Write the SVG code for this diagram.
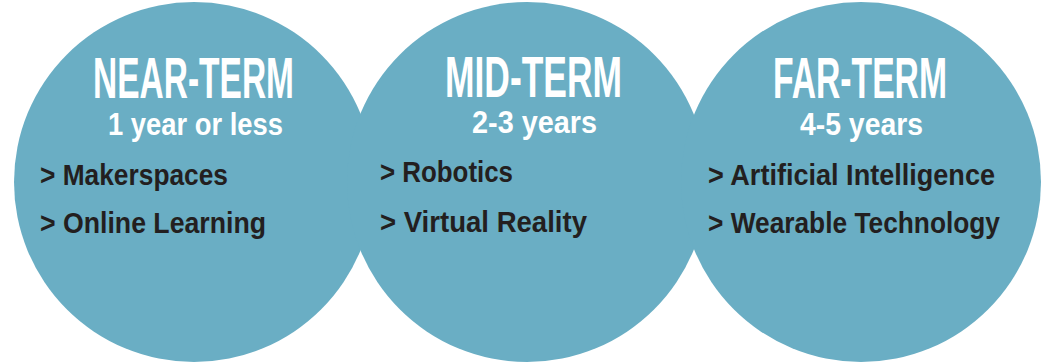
<svg xmlns="http://www.w3.org/2000/svg" width="1047" height="364" viewBox="0 0 1047 364">
<style>
.c{fill:#6aaec4}
.t{font-family:"Liberation Sans","DejaVu Sans",sans-serif;font-weight:bold;fill:#ffffff;font-size:58px}
.s{font-family:"Liberation Sans","DejaVu Sans",sans-serif;font-weight:bold;fill:#ffffff;font-size:31px}
.i{font-family:"Liberation Sans","DejaVu Sans",sans-serif;font-weight:bold;fill:#231f20;font-size:29px}
</style>
<rect width="1047" height="364" fill="#ffffff"/>
<g id="near-term">
<circle class="c" cx="194" cy="182" r="180"/>
<text class="t" x="93" y="98" textLength="201" lengthAdjust="spacingAndGlyphs">NEAR-TERM</text>
<text class="s" x="108" y="135" textLength="175" lengthAdjust="spacingAndGlyphs">1 year or less</text>
<text class="i" x="40" y="185" textLength="188" lengthAdjust="spacingAndGlyphs">&gt; Makerspaces</text>
<text class="i" x="40" y="233" textLength="226" lengthAdjust="spacingAndGlyphs">&gt; Online Learning</text>
</g>
<g id="mid-term">
<circle class="c" cx="527" cy="182" r="180"/>
<text class="t" x="445" y="97" textLength="177" lengthAdjust="spacingAndGlyphs">MID-TERM</text>
<text class="s" x="472" y="133" textLength="125" lengthAdjust="spacingAndGlyphs">2-3 years</text>
<text class="i" x="380" y="182" textLength="133" lengthAdjust="spacingAndGlyphs">&gt; Robotics</text>
<text class="i" x="380" y="232" textLength="207" lengthAdjust="spacingAndGlyphs">&gt; Virtual Reality</text>
</g>
<g id="far-term">
<circle class="c" cx="861" cy="182" r="180"/>
<text class="t" x="773" y="98" textLength="174" lengthAdjust="spacingAndGlyphs">FAR-TERM</text>
<text class="s" x="800" y="135" textLength="123" lengthAdjust="spacingAndGlyphs">4-5 years</text>
<text class="i" x="708" y="185" textLength="287" lengthAdjust="spacingAndGlyphs">&gt; Artificial Intelligence</text>
<text class="i" x="708" y="233" textLength="292" lengthAdjust="spacingAndGlyphs">&gt; Wearable Technology</text>
</g>
<g id="connectors"/>
</svg>
